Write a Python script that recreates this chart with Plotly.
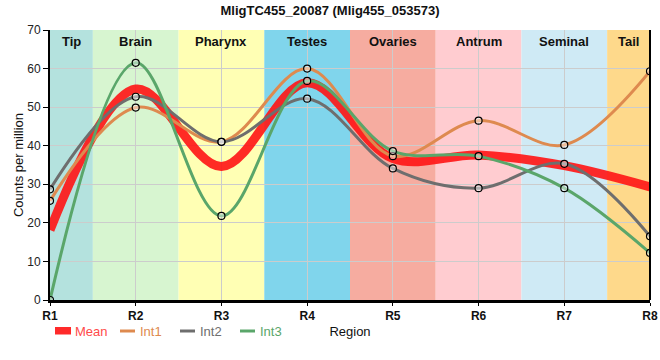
import plotly.graph_objects as go

categories = ["R1", "R2", "R3", "R4", "R5", "R6", "R7", "R8"]
int1 = [25.7, 49.9, 41.0, 60.0, 37.3, 46.5, 40.2, 59.3]
int2 = [28.7, 52.7, 41.0, 52.2, 34.1, 29.0, 35.3, 16.5]
int3 = [0.0, 61.5, 21.8, 56.8, 38.6, 37.3, 29.0, 12.2]
mean = [round((a + b + c) / 3, 2) for a, b, c in zip(int1, int2, int3)]

band_names = ["Tip", "Brain", "Pharynx", "Testes", "Ovaries", "Antrum", "Seminal", "Tail"]
band_colors = ["#b4e2de", "#d7f5d0", "#ffffb4", "#80d5ec", "#f6aca0", "#ffccd0", "#cfeaf5", "#fed98b"]

title = "MligTC455_20087 (Mlig455_053573)"
font = "Liberation Sans, Arial, sans-serif"

W, H = 660, 360
ML, MR, MT, MB = 50, 10, 30, 60
PW, PH = W - ML - MR, H - MT - MB


def px(x):
    return (x - ML) / PW


def py(y):
    return 1 - (y - MT) / PH


fig = go.Figure()

n = len(categories)
shapes = []
annotations = []
for i, (nm, col) in enumerate(zip(band_names, band_colors)):
    x0 = max(i - 0.5, 0)
    x1 = min(i + 0.5, n - 1)
    shapes.append(dict(type="rect", xref="x", yref="paper", x0=x0, x1=x1, y0=0, y1=1,
                       fillcolor=col, line=dict(width=0), layer="below"))
    annotations.append(dict(x=(x0 + x1) / 2, y=1, xref="x", yref="paper", yanchor="top",
                            yshift=-2, text="<b>%s</b>" % nm, showarrow=False,
                            font=dict(size=13, color="#111111", family=font)))

mean_color = "#ff2a2a"
fig.add_trace(go.Scatter(x=categories, y=mean, mode="lines", name="Mean", showlegend=False,
                         line=dict(color="rgba(255,20,20,0.9)", width=9, shape="spline", smoothing=1.0)))

series = [("Int1", int1, "#de8a4f"), ("Int2", int2, "#6e6e6e"), ("Int3", int3, "#5aa66a")]
for name, vals, col in series:
    fig.add_trace(go.Scatter(x=categories, y=vals, mode="lines", name=name, showlegend=False,
                             line=dict(color=col, width=3, shape="spline", smoothing=1.0)))

marker = dict(size=7, color="rgba(255,255,255,0.45)", line=dict(color="black", width=1.2))
for name, vals, col in series:
    fig.add_trace(go.Scatter(x=categories, y=vals, mode="markers", marker=marker,
                             showlegend=False, hoverinfo="skip"))

# legend drawn as shapes + text annotations
leg_y = 331
shapes.append(dict(type="rect", xref="paper", yref="paper", x0=px(55), x1=px(71),
                   y0=py(334.5), y1=py(327), fillcolor=mean_color, line=dict(width=0)))
annotations.append(dict(x=px(73), y=py(leg_y), xref="paper", yref="paper", xanchor="left",
                        yanchor="middle", text="Mean", showarrow=False,
                        font=dict(size=13, color="#ff4a4a", family=font)))
leg_x = [120, 180, 240]
for (name, vals, col), lx in zip(series, leg_x):
    shapes.append(dict(type="line", xref="paper", yref="paper", x0=px(lx), x1=px(lx + 15),
                       y0=py(leg_y), y1=py(leg_y), line=dict(color=col, width=3)))
    annotations.append(dict(x=px(lx + 18), y=py(leg_y), xref="paper", yref="paper",
                            xanchor="left", yanchor="middle", text=name, showarrow=False,
                            font=dict(size=13, color=col, family=font)))

fig.update_layout(
    width=W, height=H,
    margin=dict(l=ML, r=MR, t=MT, b=MB, autoexpand=False),
    paper_bgcolor="white", plot_bgcolor="white",
    font=dict(family=font, size=12, color="#111111"),
    title=dict(text="<b>%s</b>" % title, x=0.5, xanchor="center", y=0.985, yanchor="top",
               font=dict(size=13, family=font, color="#111111")),
    shapes=shapes, annotations=annotations,
    showlegend=False,
    xaxis=dict(type="category", range=[0, n - 1], showgrid=True, gridcolor="#cccccc", gridwidth=1,
               showline=True, linecolor="black", linewidth=3, mirror=False, automargin=False,
               tickfont=dict(size=12, family=font, color="#111111"),
               ticks="outside", ticklen=3, tickcolor="black",
               title=dict(text="Region", font=dict(size=13), standoff=5),
               layer="below traces"),
    yaxis=dict(range=[0, 70], dtick=10, showgrid=True, gridcolor="#cccccc", gridwidth=1,
               showline=True, linecolor="black", linewidth=2, zeroline=False, automargin=False,
               ticks="outside", ticklen=5, tickcolor="black",
               tickfont=dict(size=12, family=font, color="#222222"),
               title=dict(text="Counts per million", font=dict(size=13), standoff=1),
               layer="below traces"),
)
fig.update_xaxes(tickvals=categories, ticktext=["<b>%s</b>" % c for c in categories])

fig.add_shape(type="line", xref="paper", yref="paper", x0=1, x1=1, y0=0, y1=1,
              line=dict(color="black", width=2))

fig.write_html("out.html", config={"displayModeBar": False},
               post_script="document.body.style.margin='0';document.body.style.padding='0';")
